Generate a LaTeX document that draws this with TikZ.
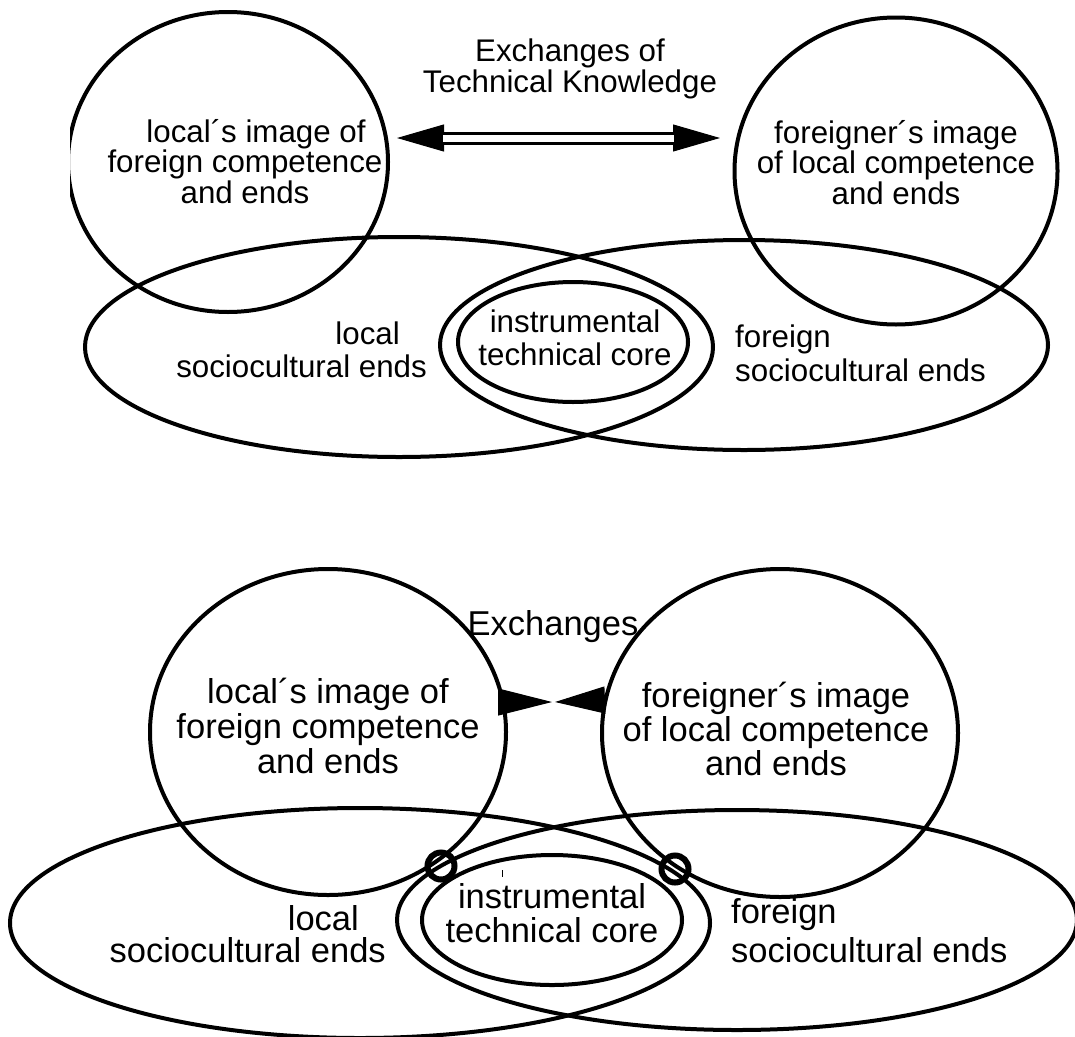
\documentclass[tikz,border=0pt]{standalone}
\usepackage{fontspec}
\setmainfont{Liberation Sans}
\usetikzlibrary{shapes.geometric,arrows.meta}

\begin{document}
\begin{tikzpicture}[x=1pt,y=-1pt,
    blob/.style={ellipse,draw,line width=4pt,inner sep=0pt},
    mark ring/.style={circle,draw,line width=6pt,inner sep=0pt,minimum size=27pt},
    txt/.style={inner sep=0pt,font=\fontsize{31.3}{30.5}\selectfont},
    bigtxt/.style={inner sep=0pt,font=\fontsize{34.5}{35}\selectfont},
    tiphead/.style={line width=1pt,-{Triangle[length=#1,width=27pt]}}]

\clip (0,0) rectangle (1075,1036);

% upper diagram
\begin{scope}
  \clip (70,0) rectangle (1075,520);
  \node[blob,minimum width=320pt,minimum height=300pt] (lc1) at (228,162) {};
\end{scope}
\node[blob,minimum width=323pt,minimum height=307pt] (fc1) at (896,171) {};
\node[blob,minimum width=628pt,minimum height=220pt] (ls1) at (399,347) {};
\node[blob,minimum width=608pt,minimum height=210pt] (fs1) at (744,345) {};
\node[blob,minimum width=230pt,minimum height=120pt] (core1) at (573,342) {};

\coordinate (tipL) at (397,138);
\coordinate (tipR) at (720,138);
\draw[line width=1pt,{Triangle[length=47pt,width=27pt]}-{Triangle[length=47pt,width=27pt]}] (tipL) -- (tipR);
\draw[double,line width=3pt,double distance=7pt,shorten <=46pt,shorten >=46pt] (tipL) -- (tipR);

\node[txt,anchor=north,align=center] (exch1) at (570,39) {Exchanges of\\Technical Knowledge};
\node[txt,anchor=north,align=center] (lc1txt) at (245,119) {\hspace*{22pt}local´s image of\\foreign competence\\and ends};
\node[txt,anchor=north,align=center] (fc1txt) at (896,120) {foreigner´s image\\of local competence\\and ends};
\node[txt,anchor=north east,align=right,font=\fontsize{31.3}{33}\selectfont] (ls1txt) at (427,322) {local\hspace*{27pt}\\sociocultural ends};
\node[txt,anchor=north west,align=left,font=\fontsize{31.3}{34}\selectfont] (fs1txt) at (735,325) {foreign\\sociocultural ends};
\node[txt,anchor=north,align=center,font=\fontsize{31.3}{33}\selectfont] (core1txt) at (575,310) {instrumental\\technical core};

% lower diagram
\node[blob,minimum width=356pt,minimum height=326pt] (lc2) at (328,732) {};
\node[blob,minimum width=356pt,minimum height=328pt] (fc2) at (780,733) {};
\node[blob,minimum width=700pt,minimum height=230pt] (ls2) at (360,923) {};
\node[blob,minimum width=680pt,minimum height=220pt] (fs2) at (737,920) {};
\node[blob,minimum width=260pt,minimum height=130pt] (core2) at (552,920) {};
\node[mark ring] (mk1) at (441,866) {};
\node[mark ring] (mk2) at (675,869) {};
\coordinate (tick) at (502,870);
\draw[line width=1pt] (tick) -- ++(0,7);

\coordinate (tailL) at (498,702);
\coordinate (gapL) at (552,702);
\coordinate (tailR) at (605,700);
\coordinate (gapR) at (555,702);
\draw[tiphead=54pt] (tailL) -- (gapL);
\draw[tiphead=50pt] (tailR) -- (gapR);

\node[bigtxt,anchor=north] (exch2) at (553,610) {Exchanges};
\node[bigtxt,anchor=north,align=center] (lc2txt) at (328,678) {local´s image of\\foreign competence\\and ends};
\node[bigtxt,anchor=north,align=center,font=\fontsize{34.5}{34}\selectfont] (fc2txt) at (776,682) {foreigner´s image\\of local competence\\and ends};
\node[bigtxt,anchor=north east,align=right,font=\fontsize{34.5}{32}\selectfont] (ls2txt) at (386,905) {local\hspace*{27pt}\\sociocultural ends};
\node[bigtxt,anchor=north west,align=left,font=\fontsize{34.5}{39}\selectfont] (fs2txt) at (731,898) {foreign\\sociocultural ends};
\node[bigtxt,anchor=north,align=center,font=\fontsize{34.5}{34}\selectfont] (core2txt) at (552,883) {instrumental\\technical core};
\end{tikzpicture}
\end{document}
